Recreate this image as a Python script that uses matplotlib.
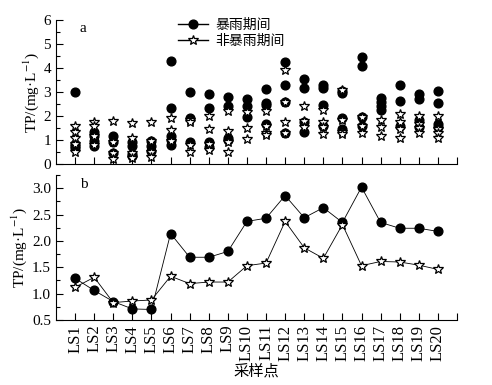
import matplotlib
matplotlib.use("Agg")
import matplotlib.pyplot as plt
from matplotlib.lines import Line2D
from matplotlib.ticker import MultipleLocator, FixedLocator, FormatStrFormatter

plt.rcParams['font.family'] = ['Liberation Serif', 'Noto Sans CJK SC']
plt.rcParams['mathtext.fontset'] = 'stix'

sites = [f"LS{i}" for i in range(1, 21)]

# Panel a: individual samples
storm_samples = [
    [3.0, 0.85, 0.75, 0.65],
    [1.32, 1.18, 0.97, 0.75],
    [1.18, 0.90, 0.45],
    [0.90, 0.75, 0.42, 0.35],
    [0.95, 0.75, 0.55],
    [4.28, 2.34, 1.15, 1.0, 0.80],
    [3.01, 1.92, 0.93],
    [2.90, 2.33, 0.90, 0.72],
    [2.79, 2.43, 1.10, 1.0],
    [2.69, 2.41, 1.95],
    [3.14, 2.55, 2.45, 1.67],
    [4.23, 3.31, 2.58, 1.28],
    [3.53, 3.18, 1.77, 1.32],
    [3.28, 3.18, 2.47, 1.60],
    [3.05, 2.95, 1.92, 1.45],
    [4.46, 4.08, 1.95, 1.57],
    [2.76, 2.58, 2.40, 2.23],
    [3.28, 2.64, 1.60],
    [2.93, 2.72, 1.85, 1.55],
    [3.03, 2.54, 1.65, 1.55],
]
nonstorm_samples = [
    [1.57, 1.32, 1.09, 0.85, 0.49],
    [1.77, 1.57, 1.16, 0.78],
    [1.78, 0.92, 0.45, 0.20],
    [1.71, 1.09, 0.45, 0.25],
    [1.77, 0.97, 0.49, 0.28],
    [1.91, 1.42, 0.95],
    [1.85, 1.74, 0.80, 0.51],
    [1.98, 1.46, 0.85, 0.59],
    [2.19, 1.36, 0.92, 0.51],
    [2.16, 1.49, 1.05],
    [2.19, 1.60, 1.30, 1.22],
    [3.93, 2.58, 1.74, 1.28],
    [2.40, 1.80, 1.56],
    [2.23, 1.74, 1.55, 1.23],
    [3.10, 1.85, 1.35, 1.27],
    [1.95, 1.57, 1.28],
    [1.83, 1.56, 1.18],
    [2.09, 1.74, 1.45, 1.09],
    [2.02, 1.65, 1.49, 1.28],
    [2.02, 1.45, 1.28, 1.09],
]

# Panel b: means
storm_mean = [1.29, 1.06, 0.85, 0.71, 0.70, 2.14, 1.69, 1.69, 1.80, 2.37,
              2.43, 2.86, 2.44, 2.63, 2.35, 3.02, 2.35, 2.24, 2.24, 2.18]
nonstorm_mean = [1.12, 1.31, 0.83, 0.86, 0.88, 1.33, 1.19, 1.22, 1.22, 1.53,
                 1.58, 2.37, 1.87, 1.67, 2.31, 1.53, 1.61, 1.60, 1.54, 1.46]

label_storm = "暴雨期间"
label_non = "非暴雨期间"
ylabel = "TP/(mg·L$^{-1}$)"
xlabel = "采样点"

fig = plt.figure(figsize=(4.92, 3.85), dpi=100)
axa = fig.add_axes([56/492, 1-164/385, (457-56)/492, (164-20)/385])
axb = fig.add_axes([56/492, 1-320/385, (457-56)/492, (320-175)/385])

xs = list(range(1, 21))
fs = 11
star_kw = dict(marker='*', markersize=7.8, markerfacecolor='white',
               markeredgecolor='black', markeredgewidth=0.9, color='black')
circ_kw = dict(marker='o', markersize=6.3, markerfacecolor='black',
               markeredgecolor='black', color='black')

for x, vals in zip(xs, storm_samples):
    axa.plot([x]*len(vals), vals, linestyle='none', **circ_kw)
for x, vals in zip(xs, nonstorm_samples):
    axa.plot([x]*len(vals), vals, linestyle='none', **star_kw)

axb.plot(xs, storm_mean, linestyle='-', linewidth=0.6, **circ_kw)
axb.plot(xs, nonstorm_mean, linestyle='-', linewidth=0.6, **star_kw)

for ax in (axa, axb):
    ax.set_xlim(0, 21)
    ax.spines['top'].set_visible(False)
    ax.spines['right'].set_visible(False)
    ax.set_xticks(xs)
    ax.xaxis.set_minor_locator(FixedLocator([21]))
    ax.tick_params(axis='both', which='both', direction='in', labelsize=fs)
    ax.tick_params(axis='both', which='major', length=5, width=0.8)
    ax.tick_params(axis='both', which='minor', length=3, width=0.8)
    ax.tick_params(axis='x', which='minor', length=5)
    ax.set_ylabel(ylabel, fontsize=fs, labelpad=2)

axa.set_ylim(0, 6)
axa.yaxis.set_major_locator(MultipleLocator(1))
axa.yaxis.set_minor_locator(MultipleLocator(0.5))
axa.set_xticklabels([])

axb.set_ylim(0.5, 3.25)
axb.set_yticks([0.5, 1.0, 1.5, 2.0, 2.5, 3.0])
axb.yaxis.set_major_formatter(FormatStrFormatter('%.1f'))
axb.yaxis.set_minor_locator(MultipleLocator(0.25))
axb.set_xticklabels(sites, rotation=90, fontsize=12)
axb.set_xlabel(xlabel, fontsize=11, family=['Noto Sans CJK SC'], labelpad=1)

fig.align_ylabels([axa, axb])

fig.text(80/492, 1-32/385, 'a', fontsize=fs)
fig.text(80/492, 1-188/385, 'b', fontsize=fs)

handles = [Line2D([], [], linestyle='-', linewidth=1.0, **circ_kw),
           Line2D([], [], linestyle='-', linewidth=1.0, **star_kw)]
axa.legend(handles, [label_storm, label_non], loc='upper left',
           bbox_to_anchor=(168/492, 1-8/385), bbox_transform=fig.transFigure,
           frameon=False, handlelength=2.2, handletextpad=0.5,
           labelspacing=0.15, borderpad=0.2,
           prop={'family': ['Noto Sans CJK SC'], 'size': 10})

fig.savefig('out.png', dpi=100)
